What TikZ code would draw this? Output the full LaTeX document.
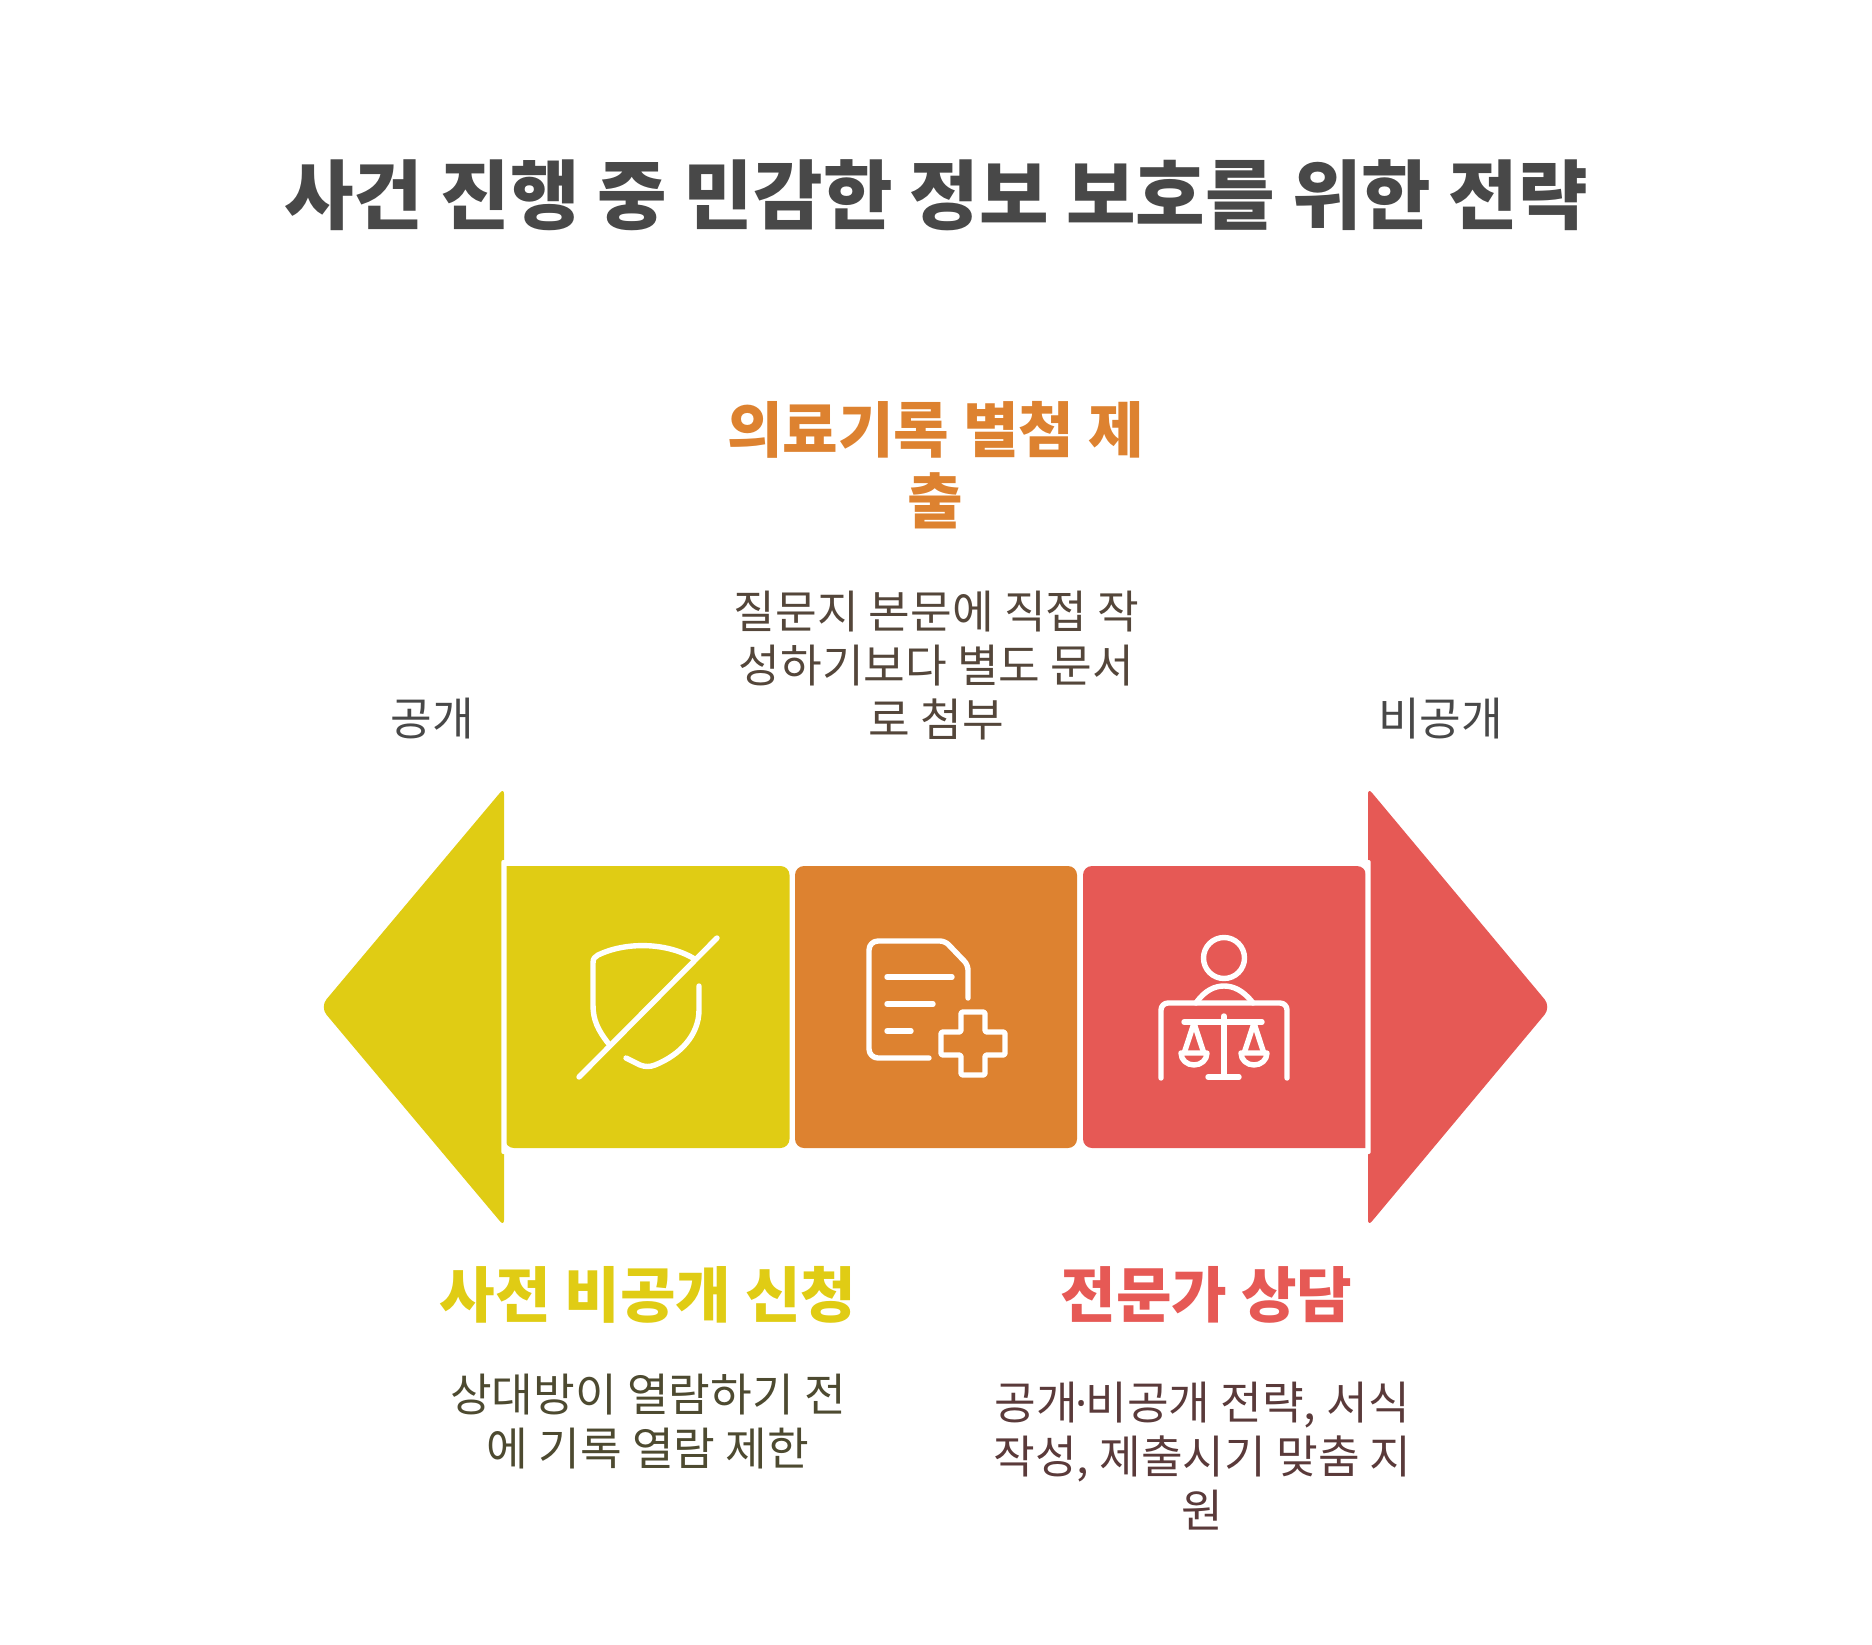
\documentclass[tikz,border=0pt]{standalone}
\usepackage{fontspec}
\setmainfont{Noto Sans CJK KR}
\newfontfamily\dotfont{Noto Sans}
\definecolor{vang}{HTML}{E0CC14}
\definecolor{cam}{HTML}{DD8230}
\definecolor{do}{HTML}{E65955}
\definecolor{chuvang}{HTML}{4D4A30}
\definecolor{chucam}{HTML}{54463A}
\definecolor{chudo}{HTML}{5A3A3A}
\definecolor{chuxam}{HTML}{484848}
\tikzset{
	iconline/.style={white,line width=5.4pt,line cap=round,line join=round},
	titletext/.style={anchor=base,text=chuxam,font=\fontsize{75.6}{90}\selectfont\bfseries},
	headtext/.style={anchor=base,align=center,font=\fontsize{60.4}{71}\selectfont\bfseries},
	bodytext/.style={anchor=base,align=center,font=\fontsize{45.3}{54}\selectfont}
}
\begin{document}
\begin{tikzpicture}[x=1pt,y=-1pt,line join=round,line cap=round]
	\useasboundingbox (0,0) rectangle (1872,1645);
	\node[titletext] (title) at (936,224) {사건 진행 중 민감한 정보 보호를 위한 전략};
	\node[headtext,text=cam] (headmid) at (935.5,523) {의료기록 별첨 제\\출};
	\node[bodytext,text=chucam] (bodymid) at (936.5,736) {질문지 본문에 직접 작\\성하기보다 별도 문서\\로 첨부};
	\node[bodytext,text=chuxam] (pub) at (432,735.5) {공개};
	\node[bodytext,text=chuxam] (nonpub) at (1440.5,735.5) {비공개};
	\node[headtext,text=vang] (headleft) at (648,1317) {사전 비공개 신청};
	\node[bodytext,text=chuvang] (bodyleft) at (648,1465) {상대방이 열람하기 전\\에 기록 열람 제한};
	\node[headtext,text=do] (headright) at (1206.5,1317) {전문가 상담};
	\node[bodytext,text=chudo] (bodyright) at (1202.5,1527) {공개\kern-2.5pt{\dotfont ·}\kern-2.5pt비공개 전략, 서식\\작성, 제출시기 맞춤 지\\원};
	\fill[vang,rounded corners=6pt] (504,900) -- (504,1226) [rounded corners=10pt] -- (320,1007) [rounded corners=6pt] -- (504,788) -- cycle;
	\fill[do,rounded corners=6pt] (1368,900) -- (1368,1226) [rounded corners=10pt] -- (1551,1007) [rounded corners=6pt] -- (1368,788) -- cycle;
	\fill[vang,rounded corners=9pt] (505,866) -- (789.5,866) -- (789.5,1148) -- (505,1148) [sharp corners] -- cycle;
	\fill[cam,rounded corners=9pt] (795,866) rectangle (1077,1148);
	\fill[do,rounded corners=9pt] (1366,1148) -- (1083,1148) -- (1083,866) -- (1366,866) [sharp corners] -- cycle;
	\foreach \x in {504,1368}{
		\fill[white,rounded corners=2pt] (\x-2.7,860) rectangle (\x+2.7,1154);}
	\draw[iconline] (579,1077) -- (717,938);
	\draw[iconline] (608,1043) .. controls (598,1030) and (593,1020) .. (593,1005) -- (593,963) .. controls (593,958) and (595,957) .. (598,955) .. controls (625,942) and (665,942) .. (693,958);
	\draw[iconline] (699,986) -- (699,1010) .. controls (699,1035) and (680,1055) .. (655,1065) .. controls (650,1067) and (645,1067) .. (640,1065) -- (626,1058);
	\draw[iconline,rounded corners=9pt] (929,1058) -- (869,1058) -- (869,941) [rounded corners=5pt] -- (945,941) -- (968,965) -- (968,998);
	\foreach \y/\xe in {977/952,1004/933,1031/911}{
		\draw[iconline] (887,\y) -- (\xe,\y);}
	\draw[iconline,rounded corners=1.5pt] (961,1012) -- (985,1012) -- (985,1032) -- (1005,1032) -- (1005,1055) -- (985,1055) -- (985,1075) -- (961,1075) -- (961,1055) -- (941,1055) -- (941,1032) -- (961,1032) -- cycle;
	\draw[iconline] (1224,958) circle (20.5);
	\draw[iconline] (1196,1003) .. controls (1205,990) and (1215,986) .. (1224,986) .. controls (1233,986) and (1243,990) .. (1253,1003);
	\draw[iconline,rounded corners=7pt] (1161,1078) -- (1161,1003) -- (1287,1003) -- (1287,1078);
	\draw[iconline] (1184,1022) -- (1262,1022);
	\draw[iconline] (1224,1016) -- (1224,1076);
	\draw[iconline] (1208,1077) -- (1239,1077);
	\foreach \x in {1194,1254}{
		\draw[iconline] (\x-9.5,1052) -- (\x,1023) -- (\x+9.5,1052);
		\draw[iconline] (\x-13,1053) -- (\x+13,1053) .. controls (\x+13,1060) and (\x+7,1065) .. (\x,1065) .. controls (\x-7,1065) and (\x-13,1060) .. (\x-13,1053);}
\end{tikzpicture}
\end{document}
